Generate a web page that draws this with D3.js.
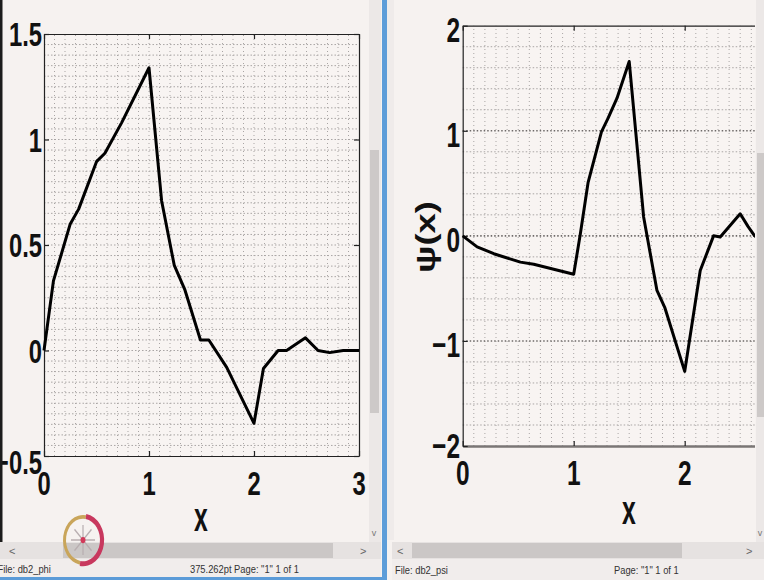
<!DOCTYPE html>
<html>
<head>
<meta charset="utf-8">
<script src="https://cdn.jsdelivr.net/npm/d3@7"></script>
<style>
  body { margin: 0; background: #f6f2f0; }
  svg { display: block; }
  text { font-family: "Liberation Sans", Arial, sans-serif; }
</style>
</head>
<body>
<div id="chart"></div>
<script>
// phi(x) - db2 scaling function
var phiX = [0, 0.09, 0.25, 0.33, 0.5, 0.58, 0.74, 1.0, 1.12, 1.24, 1.34, 1.49, 1.57, 1.74, 2.0, 2.09, 2.23, 2.31, 2.49, 2.61, 2.72, 2.85, 3.0];
var phiY = [0, 0.33, 0.6, 0.67, 0.895, 0.935, 1.08, 1.34, 0.71, 0.405, 0.29, 0.05, 0.05, -0.08, -0.345, -0.085, 0, 0, 0.06, 0, -0.01, 0, 0];

// psi(x) - db2 wavelet
var psiX = [0, 0.13, 0.28, 0.52, 0.64, 1.0, 1.06, 1.13, 1.25, 1.31, 1.39, 1.5, 1.63, 1.75, 1.82, 2.0, 2.14, 2.26, 2.32, 2.5, 2.57, 2.63, 2.7];
var psiY = [0, -0.105, -0.17, -0.25, -0.27, -0.365, 0.02, 0.51, 0.99, 1.12, 1.31, 1.66, 0.18, -0.52, -0.68, -1.29, -0.33, 0, -0.01, 0.21, 0.09, 0, -0.05];

var phiXTicks = [0, 1, 2, 3];
var phiYTicks = [-0.5, 0, 0.5, 1, 1.5];
var phiYLabels = ["\u22120.5", "0", "0.5", "1", "1.5"];
var psiXTicks = [0, 1, 2, 3];
var psiYTicks = [-2, -1, 0, 1, 2];
var psiYLabels = ["\u22122", "\u22121", "0", "1", "2"];

var width = 764, height = 580;

var svg = d3.select("#chart").append("svg")
  .attr("width", width)
  .attr("height", height);

svg.append("rect").attr("width", width).attr("height", height).attr("fill", "#f6f2f0");

// squeezed bold text like the captured figure
function label(g, txt, x, y, size, anchor, sx) {
  return g.append("text")
    .attr("transform", `translate(${x},${y}) scale(${sx},1)`)
    .attr("text-anchor", anchor)
    .attr("dominant-baseline", "central")
    .attr("font-size", size)
    .attr("font-weight", "bold")
    .attr("fill", "#111")
    .text(txt);
}

function drawGrid(g, x, y, xStep, yStep, majorY) {
  var xd = x.domain(), yd = y.domain();
  var xs = d3.range(xd[0] + xStep, xd[1] - 1e-9, xStep);
  var ys = d3.range(yd[0] + yStep, yd[1] - 1e-9, yStep);
  var isMajor = d => majorY && Math.abs(d - Math.round(d)) < 1e-6;
  g.selectAll(".gv").data(xs).enter().append("line")
    .attr("x1", d => x(d)).attr("x2", d => x(d))
    .attr("y1", y.range()[0]).attr("y2", y.range()[1])
    .attr("stroke", "#a9a5a4").attr("stroke-width", 1)
    .attr("stroke-dasharray", "1,3");
  g.selectAll(".gh").data(ys).enter().append("line")
    .attr("x1", x.range()[0]).attr("x2", x.range()[1])
    .attr("y1", d => y(d)).attr("y2", d => y(d))
    .attr("stroke", d => isMajor(d) ? "#6f6b6a" : "#a9a5a4")
    .attr("stroke-width", d => isMajor(d) ? 1.6 : 1)
    .attr("stroke-dasharray", "1.5,2");
}

// ---------------- left window: phi ----------------
var left = svg.append("g");

var x1 = d3.scaleLinear().domain([0, 3]).range([44, 359]);
var y1 = d3.scaleLinear().domain([-0.5, 1.5]).range([456, 34]);

left.append("rect").attr("x", 44).attr("y", 34).attr("width", 315).attr("height", 422).attr("fill", "#f8f4f2");
drawGrid(left, x1, y1, 0.1, 0.05, false);

// axes, ticks pointing inward like MATLAB
left.append("g").attr("transform", "translate(0,456)")
  .call(d3.axisBottom(x1).tickValues(phiXTicks).tickSizeInner(-5).tickSizeOuter(0).tickFormat(""));
left.append("g").attr("transform", "translate(0,34)")
  .call(d3.axisTop(x1).tickValues(phiXTicks).tickSizeInner(-5).tickSizeOuter(0).tickFormat(""));
left.append("g").attr("transform", "translate(44,0)")
  .call(d3.axisLeft(y1).tickValues(phiYTicks).tickSizeInner(-5).tickSizeOuter(0).tickFormat(""));
left.append("g").attr("transform", "translate(359,0)")
  .call(d3.axisRight(y1).tickValues(phiYTicks).tickSizeInner(-5).tickSizeOuter(0).tickFormat(""));
left.selectAll(".domain, .tick line").attr("stroke", "#222").attr("stroke-width", 1.2);

left.append("path")
  .datum(phiX.map((d, i) => [d, phiY[i]]))
  .attr("fill", "none").attr("stroke", "#000").attr("stroke-width", 3)
  .attr("stroke-linejoin", "round")
  .attr("d", d3.line().x(d => x1(d[0])).y(d => y1(d[1])));

phiYTicks.forEach(function(t, i) {
  label(left, phiYLabels[i], 42, y1(t) + (i === 0 ? 6 : 0), 34, "end", 0.7);
});
phiXTicks.forEach(function(t) {
  label(left, String(t), x1(t), 483, 34, "middle", 0.7);
});
label(left, "x", 201, 517, 40, "middle", 0.62);

// left window chrome
left.append("rect").attr("x", 0).attr("y", 0).attr("width", 2.5).attr("height", 560).attr("fill", "#1c1c1c");
left.append("rect").attr("x", 369).attr("y", 0).attr("width", 12).attr("height", 542).attr("fill", "#ece8e7");
left.append("rect").attr("x", 370).attr("y", 150).attr("width", 9).attr("height", 263).attr("fill", "#cdc9c8");
left.append("text").attr("x", 374).attr("y", 536).attr("text-anchor", "middle").attr("font-size", 9).attr("fill", "#777").text("v");
left.append("rect").attr("x", 0).attr("y", 542).attr("width", 381).attr("height", 17).attr("fill", "#e6e2e1");
left.append("rect").attr("x", 63).attr("y", 543).attr("width", 270).attr("height", 15).attr("fill", "#cbc7c6");
left.append("text").attr("x", 9).attr("y", 555).attr("font-size", 11).attr("fill", "#666").text("<");
left.append("text").attr("x", 360).attr("y", 555).attr("font-size", 11).attr("fill", "#666").text(">");
left.append("rect").attr("x", 0).attr("y", 559).attr("width", 381).attr("height", 18).attr("fill", "#f1edec");
left.append("text").attr("x", -3).attr("y", 573).attr("font-size", 11).attr("fill", "#333")
  .attr("transform", "scale(0.85,1)").text("File: db2_phi");
left.append("text").attr("x", 190 / 0.85).attr("y", 573).attr("font-size", 11).attr("fill", "#333")
  .attr("transform", "scale(0.85,1)").text("375.262pt   Page: \"1\" 1 of 1");
left.append("rect").attr("x", 0).attr("y", 577).attr("width", 383).attr("height", 3).attr("fill", "#5b9bd8");

// logo ring
var logo = left.append("g").attr("transform", "translate(83,540) scale(1,1.25)");
logo.append("path").attr("d", d3.arc()({innerRadius: 17, outerRadius: 20, startAngle: Math.PI * 1.05, endAngle: Math.PI * 2.05}))
  .attr("fill", "#c9a55a");
logo.append("path").attr("d", d3.arc()({innerRadius: 17, outerRadius: 21, startAngle: Math.PI * 0.05, endAngle: Math.PI * 1.05}))
  .attr("fill", "#c8385e");
d3.range(0, 8).forEach(function(k) {
  var a = k * Math.PI / 4;
  logo.append("line").attr("x1", 0).attr("y1", 0)
    .attr("x2", 12 * Math.cos(a)).attr("y2", 12 * Math.sin(a))
    .attr("stroke", "#b8aeb0").attr("stroke-width", 1.2);
});
logo.append("circle").attr("r", 2.5).attr("fill", "#d23a5a");

// divider between windows
svg.append("rect").attr("x", 382).attr("y", 0).attr("width", 5).attr("height", 580).attr("fill", "#5d9dd9");
svg.append("rect").attr("x", 387).attr("y", 0).attr("width", 7).attr("height", 540).attr("fill", "#efebea");

// ---------------- right window: psi ----------------
var right = svg.append("g");

svg.append("defs").append("clipPath").attr("id", "clipR")
  .append("rect").attr("x", 380).attr("y", 0).attr("width", 375).attr("height", 540);

var x2 = d3.scaleLinear().domain([0, 3]).range([462.7, 795.7]);
var y2 = d3.scaleLinear().domain([-2, 2]).range([446, 25.7]);

var inner = right.append("g").attr("clip-path", "url(#clipR)");
inner.append("rect").attr("x", 462.7).attr("y", 25.7).attr("width", 333).attr("height", 420.3).attr("fill", "#f8f4f2");
drawGrid(inner, x2, y2, 0.1, 0.2, true);

inner.append("g").attr("transform", "translate(0,446)")
  .call(d3.axisBottom(x2).tickValues(psiXTicks).tickSizeInner(-5).tickSizeOuter(0).tickFormat(""));
inner.append("g").attr("transform", "translate(0,25.7)")
  .call(d3.axisTop(x2).tickValues(psiXTicks).tickSizeInner(-5).tickSizeOuter(0).tickFormat(""));
inner.append("g").attr("transform", "translate(462.7,0)")
  .call(d3.axisLeft(y2).tickValues(psiYTicks).tickSizeInner(-5).tickSizeOuter(0).tickFormat(""));
inner.selectAll(".domain, .tick line").attr("stroke", "#222").attr("stroke-width", 1.2);
inner.select("g:nth-of-type(2) .domain").attr("stroke", "#7a7675").attr("stroke-width", 2.5);

inner.append("path")
  .datum(psiX.map((d, i) => [d, psiY[i]]))
  .attr("fill", "none").attr("stroke", "#000").attr("stroke-width", 3)
  .attr("stroke-linejoin", "round")
  .attr("d", d3.line().x(d => x2(d[0])).y(d => y2(d[1])));

psiYTicks.forEach(function(t, i) {
  label(right, psiYLabels[i], 460, y2(t) + (i === 0 ? 0 : 4), 35, "end", 0.7);
});
psiXTicks.slice(0, 3).forEach(function(t) {
  label(right, String(t), x2(t), 473, 35, "middle", 0.7);
});
label(right, "x", 629, 510, 40, "middle", 0.62);

right.append("text")
  .attr("transform", "translate(426,237) rotate(-90)")
  .attr("text-anchor", "middle")
  .attr("dominant-baseline", "central")
  .attr("font-size", 27)
  .attr("font-weight", "bold")
  .attr("fill", "#111")
  .attr("textLength", 72)
  .attr("lengthAdjust", "spacingAndGlyphs")
  .text("\u03c8(x)");

// right window chrome
right.append("rect").attr("x", 756).attr("y", 0).attr("width", 8).attr("height", 542).attr("fill", "#ece8e7");
right.append("rect").attr("x", 757).attr("y", 153).attr("width", 7).attr("height", 264).attr("fill", "#cdc9c8");
right.append("text").attr("x", 760).attr("y", 536).attr("text-anchor", "middle").attr("font-size", 9).attr("fill", "#777").text("v");
right.append("rect").attr("x", 392).attr("y", 542).attr("width", 372).attr("height", 17).attr("fill", "#e6e2e1");
right.append("rect").attr("x", 412).attr("y", 543).attr("width", 270).attr("height", 15).attr("fill", "#cbc7c6");
right.append("text").attr("x", 397).attr("y", 555).attr("font-size", 11).attr("fill", "#666").text("<");
right.append("text").attr("x", 746).attr("y", 555).attr("font-size", 11).attr("fill", "#666").text(">");
right.append("rect").attr("x", 392).attr("y", 559).attr("width", 372).attr("height", 21).attr("fill", "#f1edec");
right.append("text").attr("x", 395 / 0.85).attr("y", 574).attr("font-size", 11).attr("fill", "#333")
  .attr("transform", "scale(0.85,1)").text("File: db2_psi");
right.append("text").attr("x", 614 / 0.85).attr("y", 574).attr("font-size", 11).attr("fill", "#333")
  .attr("transform", "scale(0.85,1)").text("Page: \"1\" 1 of 1");
</script>
</body>
</html>
